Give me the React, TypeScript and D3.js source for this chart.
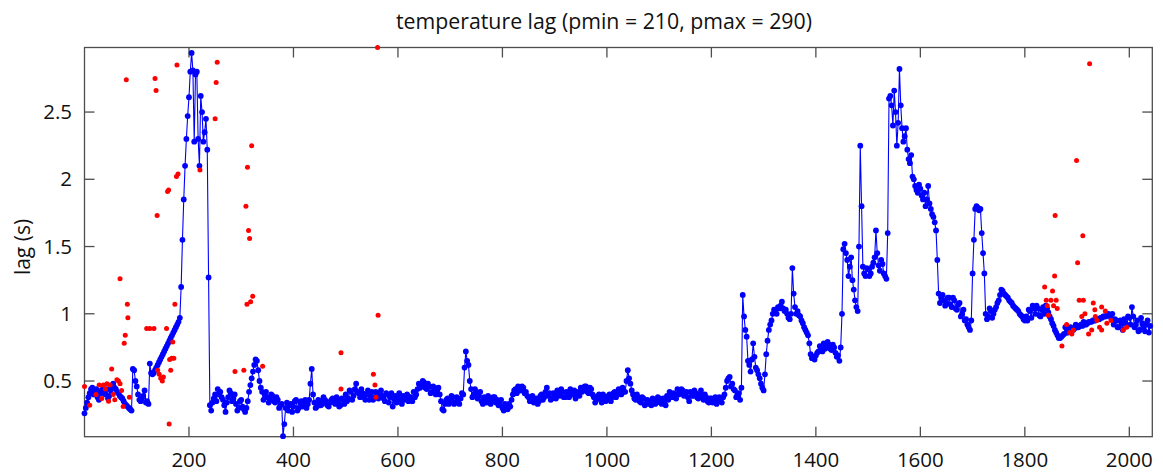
import React, { useEffect, useRef } from 'react';
import * as d3 from 'd3';

const W = 1163;
const H = 474;

const title = 'temperature lag (pmin = 210, pmax = 290)';
const yTitle = 'lag (s)';
const xTicks = [200, 400, 600, 800, 1000, 1200, 1400, 1600, 1800, 2000];
const yTicks = [0.5, 1, 1.5, 2, 2.5];

// blue series, read in two interleaved passes:
// lagA at records 0, 5, 10, ... and lagB half way between (2.5, 7.5, ...)
const blueStep = 5;
const lagA = [
  0.26, 0.34, 0.41, 0.45, 0.42, 0.38, 0.41, 0.44, 0.40, 0.37, 0.43, 0.48, 0.44, 0.41, 0.38, 0.35, 0.32, 0.30, 0.28, 0.58,
  0.46, 0.36, 0.37, 0.43, 0.35, 0.63, 0.55, 0.58, 0.62, 0.66, 0.70, 0.74, 0.78, 0.82, 0.86, 0.90, 0.94, 1.20, 1.85, 2.30,
  2.61, 2.94, 2.28, 2.80, 2.10, 2.50, 2.35, 2.22, 0.32, 0.34, 0.40, 0.44, 0.42, 0.36, 0.27, 0.38, 0.41, 0.37, 0.33, 0.30,
  0.36, 0.29, 0.30, 0.42, 0.52, 0.62, 0.65, 0.50, 0.42, 0.40, 0.38, 0.36, 0.39, 0.34, 0.36, 0.32, 0.09, 0.30, 0.28, 0.33,
  0.31, 0.36, 0.30, 0.35, 0.33, 0.30, 0.36, 0.59, 0.34, 0.31, 0.35, 0.33, 0.36, 0.32, 0.34, 0.37, 0.33, 0.35, 0.32, 0.36,
  0.40, 0.37, 0.42, 0.39, 0.48, 0.41, 0.44, 0.38, 0.40, 0.36, 0.42, 0.38, 0.40, 0.41, 0.39, 0.35, 0.40, 0.38, 0.31, 0.39,
  0.38, 0.36, 0.39, 0.37, 0.35, 0.38, 0.42, 0.40, 0.48, 0.47, 0.49, 0.44, 0.46, 0.42, 0.45, 0.43, 0.40, 0.29, 0.33, 0.37,
  0.35, 0.38, 0.34, 0.36, 0.37, 0.40, 0.72, 0.62, 0.44, 0.40, 0.42, 0.39, 0.35, 0.38, 0.34, 0.37, 0.35, 0.38, 0.36, 0.33,
  0.30, 0.33, 0.29, 0.31, 0.40, 0.44, 0.46, 0.43, 0.45, 0.42, 0.38, 0.36, 0.34, 0.37, 0.35, 0.40, 0.38, 0.45, 0.41, 0.37,
  0.40, 0.43, 0.39, 0.42, 0.38, 0.41, 0.44, 0.40, 0.37, 0.42, 0.45, 0.43, 0.46, 0.41, 0.44, 0.38, 0.36, 0.40, 0.34, 0.38,
  0.36, 0.40, 0.38, 0.42, 0.40, 0.43, 0.45, 0.42, 0.58, 0.48, 0.40, 0.36, 0.38, 0.34, 0.37, 0.33, 0.35, 0.32, 0.36, 0.34,
  0.37, 0.33, 0.35, 0.39, 0.42, 0.38, 0.40, 0.44, 0.41, 0.43, 0.40, 0.38, 0.42, 0.39, 0.41, 0.37, 0.43, 0.36, 0.38, 0.34,
  0.37, 0.35, 0.33, 0.38, 0.34, 0.40, 0.50, 0.53, 0.48, 0.43, 0.40, 0.36, 1.14, 0.88, 0.65, 0.57, 0.78, 0.60, 0.55, 0.48,
  0.43, 0.70, 0.88, 0.95, 1.03, 1.00, 1.04, 1.09, 1.02, 1.00, 0.96, 1.34, 1.05, 1.02, 0.98, 0.93, 0.88, 0.84, 0.70, 0.68,
  0.69, 0.72, 0.74, 0.78, 0.75, 0.77, 0.73, 0.75, 0.68, 0.65, 1.00, 1.52, 1.40, 1.35, 1.25, 1.10, 1.02, 2.25, 1.35, 1.28,
  1.33, 1.30, 1.38, 1.62, 1.36, 1.40, 1.30, 1.26, 2.60, 2.55, 2.66, 2.25, 2.82, 2.38, 2.32, 2.22, 2.12, 2.02, 1.95, 1.90,
  1.93, 1.85, 1.80, 1.95, 1.78, 1.72, 1.62, 1.15, 1.12, 1.10, 1.08, 1.12, 1.05, 1.10, 1.03, 1.08, 1.00, 0.95, 0.92, 0.88,
  1.30, 1.78, 1.79, 1.78, 1.45, 1.00, 0.98, 1.02, 1.00, 1.05, 1.10, 1.18, 1.15, 1.13, 1.10, 1.08, 1.05, 1.03, 1.00, 0.98,
  0.95, 0.95, 1.02, 1.06, 1.00, 1.04, 0.98, 1.05, 1.06, 1.01, 0.96, 0.91, 0.86, 0.82, 0.83, 0.85, 0.86, 0.87, 0.88, 0.89,
  0.90, 0.91, 0.91, 0.92, 0.93, 0.94, 0.95, 0.95, 0.96, 0.97, 0.98, 0.98, 1.00, 0.97, 0.92, 0.95, 0.90, 0.93, 0.96, 0.92,
  0.97, 1.05, 0.90, 0.95, 0.88, 0.93, 0.87, 0.95, 0.91,
];
const lagB = [
  0.30, 0.38, 0.44, 0.40, 0.44, 0.36, 0.43, 0.41, 0.44, 0.39, 0.46, 0.45, 0.42, 0.39, 0.37, 0.33, 0.31, 0.29, 0.59, 0.50,
  0.40, 0.35, 0.39, 0.34, 0.33, 0.56, 0.56, 0.60, 0.64, 0.68, 0.72, 0.76, 0.80, 0.84, 0.88, 0.92, 0.97, 1.55, 2.10, 2.47,
  2.80, 2.81, 2.78, 2.30, 2.62, 2.28, 2.45, 1.27, 0.28, 0.37, 0.35, 0.40, 0.38, 0.32, 0.34, 0.43, 0.35, 0.40, 0.28, 0.35,
  0.31, 0.27, 0.35, 0.47, 0.57, 0.66, 0.58, 0.45, 0.36, 0.42, 0.34, 0.40, 0.35, 0.38, 0.30, 0.33, 0.18, 0.34, 0.32, 0.27,
  0.35, 0.28, 0.34, 0.31, 0.36, 0.33, 0.48, 0.40, 0.30, 0.36, 0.32, 0.38, 0.35, 0.31, 0.36, 0.34, 0.38, 0.31, 0.37, 0.33,
  0.35, 0.43, 0.36, 0.44, 0.42, 0.38, 0.41, 0.36, 0.43, 0.39, 0.36, 0.42, 0.37, 0.43, 0.37, 0.41, 0.34, 0.41, 0.37, 0.34,
  0.41, 0.33, 0.36, 0.40, 0.38, 0.35, 0.38, 0.44, 0.45, 0.50, 0.45, 0.48, 0.41, 0.46, 0.40, 0.45, 0.35, 0.28, 0.36, 0.33,
  0.39, 0.33, 0.38, 0.33, 0.41, 0.60, 0.65, 0.50, 0.38, 0.44, 0.37, 0.42, 0.33, 0.36, 0.39, 0.33, 0.38, 0.34, 0.32, 0.36,
  0.28, 0.31, 0.33, 0.36, 0.43, 0.41, 0.43, 0.46, 0.41, 0.39, 0.35, 0.39, 0.36, 0.33, 0.39, 0.36, 0.42, 0.39, 0.36, 0.41,
  0.37, 0.40, 0.44, 0.38, 0.42, 0.38, 0.40, 0.43, 0.40, 0.39, 0.42, 0.46, 0.42, 0.45, 0.40, 0.34, 0.39, 0.37, 0.40, 0.35,
  0.39, 0.35, 0.41, 0.38, 0.44, 0.40, 0.42, 0.50, 0.52, 0.43, 0.37, 0.40, 0.35, 0.38, 0.32, 0.36, 0.33, 0.37, 0.33, 0.38,
  0.34, 0.37, 0.32, 0.36, 0.39, 0.41, 0.37, 0.40, 0.44, 0.39, 0.42, 0.35, 0.39, 0.43, 0.38, 0.40, 0.38, 0.40, 0.35, 0.37,
  0.34, 0.38, 0.36, 0.35, 0.38, 0.45, 0.52, 0.46, 0.44, 0.38, 0.41, 0.45, 0.98, 0.83, 0.62, 0.66, 0.68, 0.58, 0.52, 0.45,
  0.55, 0.80, 0.92, 1.00, 1.01, 1.05, 1.06, 1.04, 1.03, 0.97, 1.00, 1.15, 1.00, 0.99, 0.95, 0.90, 0.86, 0.78, 0.67, 0.66,
  0.71, 0.76, 0.72, 0.74, 0.79, 0.74, 0.77, 0.71, 0.69, 0.75, 1.48, 1.45, 1.28, 1.42, 1.18, 1.05, 1.50, 1.80, 1.30, 1.34,
  1.28, 1.35, 1.42, 1.45, 1.32, 1.37, 1.28, 1.60, 2.62, 2.40, 2.50, 2.42, 2.55, 2.28, 2.38, 2.15, 2.18, 2.00, 1.92, 1.96,
  1.88, 1.90, 1.85, 1.82, 1.74, 1.68, 1.40, 1.08, 1.14, 1.06, 1.12, 1.07, 1.12, 1.04, 1.07, 0.98, 1.03, 0.96, 0.90, 0.95,
  1.55, 1.80, 1.77, 1.60, 1.30, 0.96, 1.04, 0.97, 1.03, 1.08, 1.14, 1.17, 1.14, 1.12, 1.09, 1.06, 1.04, 1.02, 0.99, 0.96,
  0.98, 1.03, 0.97, 1.04, 1.06, 0.99, 1.03, 1.00, 1.04, 0.98, 0.93, 0.88, 0.84, 0.82, 0.84, 0.90, 0.86, 0.90, 0.88, 0.92,
  0.90, 0.92, 0.94, 0.92, 0.94, 0.94, 0.95, 0.96, 0.96, 0.97, 0.98, 0.99, 0.99, 1.00, 0.96, 0.90, 0.95, 0.88, 0.93, 0.98,
  0.92, 0.98, 0.92, 0.87, 0.97, 0.90, 0.92, 0.86,
];

// red outliers
const redIndex = [
  0, 10, 22, 28, 33, 36, 40, 43, 46, 49, 52, 55, 58, 62, 65, 68, 68, 71, 74, 76, 78, 80, 82, 83, 86,
  119, 125, 133, 135, 137, 139, 140, 143, 146, 149, 151, 157, 159, 161, 162, 163, 165, 167, 169, 171, 173, 176, 177, 179,
  221, 250, 252, 254, 288, 305, 309, 311, 312, 314, 316, 318, 320, 322, 341, 491, 491, 553, 556, 558, 561, 562,
  1838, 1841, 1843, 1845, 1850, 1853, 1855, 1857, 1858, 1860, 1862, 1871, 1880, 1886, 1890, 1893, 1899, 1901, 1904,
  1909, 1911, 1912, 1915, 1922, 1924, 1928, 1931, 1934, 1935, 1938, 1943, 1947, 1947, 1954, 1957, 1965, 1988, 1995,
];
const redLag = [
  0.46, 0.32, 0.40, 0.47, 0.37, 0.47, 0.44, 0.48, 0.35, 0.47, 0.59, 0.40, 0.36, 0.51, 0.50, 0.48, 1.26, 0.43, 0.31, 0.78, 0.84, 2.74, 1.07, 0.97, 0.38,
  0.89, 0.89, 0.89, 2.75, 2.66, 1.73, 0.58, 0.55, 0.52, 0.50, 0.53, 0.89, 1.91, 1.92, 0.18, 0.66, 0.58, 0.67, 0.79, 0.67, 1.07, 2.02, 2.85, 2.04,
  2.07, 2.45, 2.72, 2.87, 0.57, 0.58, 1.80, 1.07, 2.09, 1.62, 1.56, 1.09, 2.25, 1.13, 0.61, 0.71, 0.44, 0.55, 0.47, 0.38, 2.98, 0.99,
  1.20, 1.10, 1.06, 0.99, 1.10, 1.17, 1.06, 1.28, 1.73, 1.10, 1.04, 0.76, 0.92, 0.86, 0.85, 0.88, 2.14, 1.38, 1.10,
  0.98, 1.58, 1.10, 1.00, 0.85, 2.86, 0.88, 1.08, 1.03, 0.98, 0.95, 0.90, 1.05, 0.88, 1.02, 0.93, 0.95, 0.88, 0.90,
];

const FONT = '"Open Sans", sans-serif';

export default function App() {
  const ref = useRef<SVGSVGElement>(null);

  useEffect(() => {
    const svg = d3.select(ref.current);
    svg.selectAll('*').remove();

    const left = 84.5;
    const right = 1152.3;
    const top = 47.5;
    const bottom = 436.7;
    const tickLen = 10;

    const x = d3.scaleLinear().domain([0, 2044]).range([left, right]);
    const y = d3.scaleLinear().domain([0.086, 2.98]).range([bottom, top]);

    // interleave the two passes back into record order
    const blue: [number, number][] = [];
    lagA.forEach((v, i) => {
      blue.push([i * blueStep, v]);
      if (i < lagB.length) blue.push([i * blueStep + blueStep / 2, lagB[i]]);
    });
    const red = redIndex.map((v, i) => [v, redLag[i]] as [number, number]);

    // frame and ticks (inside, on all four sides)
    const axes = svg.append('g').attr('stroke', '#4d4d4d').attr('stroke-width', 1.3).attr('fill', 'none');
    axes.append('rect').attr('x', left).attr('y', top).attr('width', right - left).attr('height', bottom - top);
    xTicks.forEach(t => {
      axes.append('line').attr('x1', x(t)).attr('x2', x(t)).attr('y1', bottom).attr('y2', bottom - tickLen);
      axes.append('line').attr('x1', x(t)).attr('x2', x(t)).attr('y1', top).attr('y2', top + tickLen);
    });
    yTicks.forEach(t => {
      axes.append('line').attr('x1', left).attr('x2', left + tickLen).attr('y1', y(t)).attr('y2', y(t));
      axes.append('line').attr('x1', right).attr('x2', right - tickLen).attr('y1', y(t)).attr('y2', y(t));
    });

    const labels = svg.append('g').attr('font-family', FONT).attr('font-size', 20.5).attr('fill', '#111');
    labels.selectAll('.xl').data(xTicks).join('text')
      .attr('x', d => x(d)).attr('y', 467)
      .attr('text-anchor', 'middle')
      .text(d => d3.format('d')(d));
    labels.selectAll('.yl').data(yTicks).join('text')
      .attr('x', 72).attr('y', d => y(d)).attr('dy', '0.35em')
      .attr('text-anchor', 'end')
      .text(d => String(d));

    svg.append('text')
      .attr('x', 604).attr('y', 29)
      .attr('text-anchor', 'middle')
      .attr('font-family', FONT).attr('font-size', 21.3).attr('fill', '#111')
      .text(title);

    svg.append('text')
      .attr('transform', 'translate(30,247) rotate(-90)')
      .attr('text-anchor', 'middle')
      .attr('font-family', FONT).attr('font-size', 21).attr('fill', '#111')
      .text(yTitle);

    // blue line with markers
    const line = d3.line<[number, number]>().x(d => x(d[0])).y(d => y(d[1]));
    svg.append('path').datum(blue)
      .attr('fill', 'none').attr('stroke', '#0000ff').attr('stroke-width', 1.1)
      .attr('d', line);
    svg.append('g').attr('fill', '#0000ff')
      .selectAll('circle').data(blue).join('circle')
      .attr('cx', d => x(d[0])).attr('cy', d => y(d[1])).attr('r', 2.9);

    svg.append('g').attr('fill', '#ff0000')
      .selectAll('circle').data(red).join('circle')
      .attr('cx', d => x(d[0])).attr('cy', d => y(d[1])).attr('r', 2.5);
  }, []);

  return (
    <svg
      ref={ref}
      width={W}
      height={H}
      style={{ position: 'absolute', left: 0, top: 0, background: '#fff' }}
    />
  );
}
